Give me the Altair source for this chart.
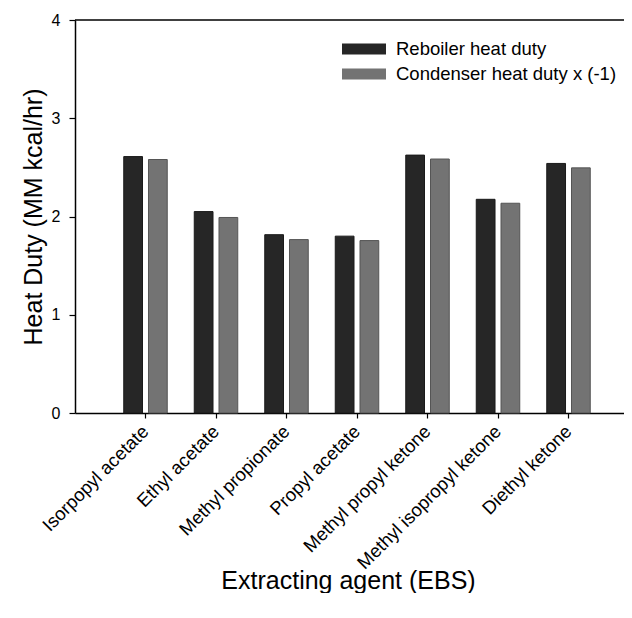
import altair as alt
import pandas as pd

agents = ["Isorpopyl acetate", "Ethyl acetate", "Methyl propionate", "Propyl acetate",
          "Methyl propyl ketone", "Methyl isopropyl ketone", "Diethyl ketone"]
reboiler = [2.61, 2.05, 1.815, 1.80, 2.625, 2.175, 2.54]
condenser = [2.58, 1.99, 1.765, 1.755, 2.585, 2.135, 2.495]
series = ["Reboiler heat duty", "Condenser heat duty x (-1)"]
y_ticks = [0, 1, 2, 3, 4]

rows = []
for a, r, c in zip(agents, reboiler, condenser):
    rows.append({"agent": a, "series": series[0], "duty": r})
    rows.append({"agent": a, "series": series[1], "duty": c})
df = pd.DataFrame(rows)
top_df = pd.DataFrame({"duty": [max(y_ticks)]})

FONT = "Liberation Sans"
W, H = 549, 393

fill_scale = alt.Scale(domain=series, range=["#262626", "#737373"])
stroke_scale = alt.Scale(domain=series, range=["#1a1a1a", "#555555"])

bars = alt.Chart(df).mark_bar(strokeWidth=1).encode(
    x=alt.X("agent:N", sort=agents,
            scale=alt.Scale(paddingInner=0.383, paddingOuter=0.585, align=0.591, round=False),
            axis=alt.Axis(title="Extracting agent (EBS)", labelAngle=-45, labelFontSize=18.5,
                          labelAlign="right", labelBaseline="middle",
                          labelPadding=10, tickSize=5, tickWidth=1.2, domainWidth=1.5,
                          titleFontSize=25, titleX=273, titleY=175, titleBaseline="alphabetic",
                          labelLimit=300)),
    xOffset=alt.XOffset("series:N", sort=series,
                        scale=alt.Scale(paddingInner=0.242, paddingOuter=0)),
    y=alt.Y("duty:Q", scale=alt.Scale(domain=[0, 4], nice=False),
            axis=alt.Axis(values=y_ticks, format="d", title="Heat Duty (MM kcal/hr)",
                          labelFontSize=16, tickSize=6, tickWidth=1.2, domainWidth=1.5,
                          labelPadding=9, titleFontSize=25, titleX=-34, titleY=196.5,
                          titleBaseline="alphabetic")),
    fill=alt.Fill("series:N", sort=series, scale=fill_scale,
                  legend=alt.Legend(title=None, orient="none", legendX=267, legendY=20,
                                    padding=0, clipHeight=18, rowPadding=6,
                                    symbolType="M-1,-0.25H1V0.25H-1Z", symbolSize=1936,
                                    symbolStrokeWidth=0, labelOffset=10, labelFontSize=18.5,
                                    labelFont=FONT, labelColor="black", labelLimit=400)),
    stroke=alt.Stroke("series:N", sort=series, scale=stroke_scale, legend=None),
)

top_rule = alt.Chart(top_df).mark_rule(color="black", strokeWidth=1.5).encode(y="duty:Q")

chart = alt.layer(bars, top_rule).properties(
    width=W, height=H, autosize="none",
    padding={"left": 67, "top": 12, "right": 0, "bottom": 180},
).configure_view(stroke=None).configure_axis(
    labelFont=FONT, titleFont=FONT, labelColor="black", titleColor="black",
    domainColor="black", tickColor="black", grid=False, titleFontWeight="normal",
)

chart.save("out.html", embed_options={"renderer": "svg", "actions": False})
